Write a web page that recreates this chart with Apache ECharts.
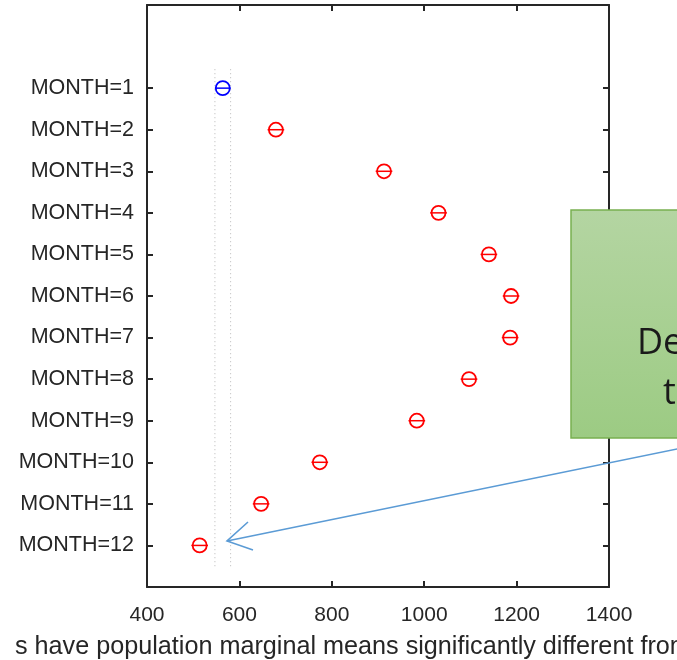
<!DOCTYPE html>
<html>
<head>
<meta charset="utf-8">
<script src="https://cdn.jsdelivr.net/npm/echarts@6/dist/echarts.min.js"></script>
<style>
html,body{margin:0;padding:0;background:#fff;}
#chart{width:677px;height:660px;}
</style>
</head>
<body>
<div id="chart"></div>
<script>
var months = ['MONTH=1','MONTH=2','MONTH=3','MONTH=4','MONTH=5','MONTH=6','MONTH=7','MONTH=8','MONTH=9','MONTH=10','MONTH=11','MONTH=12'];
var means = [564, 679, 913, 1031, 1140, 1188, 1186, 1097, 984, 774, 647, 514];
var ciHalf = [17, 18, 18, 18, 18, 18, 18, 18, 18, 18, 18, 18];
var groupColors = ['#0000ff','#ff0000','#ff0000','#ff0000','#ff0000','#ff0000','#ff0000','#ff0000','#ff0000','#ff0000','#ff0000','#ff0000'];
var footText = 's have population marginal means significantly different from MONTH=1';
var noteLines = ['Determine', 'the'];

var n = months.length;
var yPos = months.map(function(m, i){ return n - i; });
var pts = months.map(function(m, i){ return [means[i], yPos[i], means[i]-ciHalf[i], means[i]+ciHalf[i], i]; });
var refLo = means[0]-ciHalf[0], refHi = means[0]+ciHalf[0];
var labelMap = {};
yPos.forEach(function(p, i){ labelMap[p] = months[i]; });

var axisCol = '#262626';
var lblFont = '"Liberation Sans", Arial, sans-serif';
var chart = echarts.init(document.getElementById('chart'));

var option = {
  animation: false,
  backgroundColor: '#fff',
  grid: {left:147, right:68, top:5, bottom:73, containLabel:false},
  xAxis: [{
    type:'value', min:400, max:1400, interval:200, position:'bottom',
    axisLine:{show:true, onZero:false, lineStyle:{color:axisCol, width:2}},
    axisTick:{show:true, inside:true, length:6, lineStyle:{color:axisCol, width:2}},
    axisLabel:{color:axisCol, fontSize:21, fontFamily:lblFont, margin:18, formatter:function(v){ return String(v); }},
    splitLine:{show:false}
  },{
    type:'value', min:400, max:1400, interval:200, position:'top',
    axisLine:{show:true, onZero:false, lineStyle:{color:axisCol, width:2}},
    axisTick:{show:true, inside:true, length:6, lineStyle:{color:axisCol, width:2}},
    axisLabel:{show:false}, splitLine:{show:false}
  }],
  yAxis: [{
    type:'value', min:0, max:n+2, position:'left',
    axisLine:{show:true, onZero:false, lineStyle:{color:axisCol, width:2}},
    axisTick:{show:true, inside:true, length:6, customValues:yPos, lineStyle:{color:axisCol, width:2}},
    axisLabel:{color:axisCol, fontSize:21.5, fontFamily:lblFont, margin:13, customValues:yPos,
      formatter:function(v){ return labelMap[v] || ''; }},
    splitLine:{show:false}
  },{
    type:'value', min:0, max:n+2, position:'right',
    axisLine:{show:true, onZero:false, lineStyle:{color:axisCol, width:2}},
    axisTick:{show:true, inside:true, length:6, customValues:yPos, lineStyle:{color:axisCol, width:2}},
    axisLabel:{show:false, customValues:yPos}, splitLine:{show:false}
  }],
  series: [{
    type:'line', xAxisIndex:0, yAxisIndex:0, symbol:'none', silent:true,
    data:[[refLo, 0.5],[refLo, n+0.5]],
    lineStyle:{color:'#b8b8b8', width:1, type:[1,3]}
  },{
    type:'line', xAxisIndex:0, yAxisIndex:0, symbol:'none', silent:true,
    data:[[refHi, 0.5],[refHi, n+0.5]],
    lineStyle:{color:'#b8b8b8', width:1, type:[1,3]}
  },{
    type:'custom', xAxisIndex:0, yAxisIndex:0,
    data: pts,
    encode:{x:[0,2,3], y:1},
    renderItem:function(params, api){
      var m = api.value(0), y = api.value(1), lo = api.value(2), hi = api.value(3), idx = api.value(4);
      var c = api.coord([m, y]);
      var a = api.coord([lo, y]);
      var b = api.coord([hi, y]);
      var col = groupColors[idx];
      return {type:'group', children:[
        {type:'line', shape:{x1:a[0], y1:a[1], x2:b[0], y2:b[1]}, style:{stroke:col, lineWidth:1.5}},
        {type:'circle', shape:{cx:c[0], cy:c[1], r:7}, style:{stroke:col, fill:null, lineWidth:1.8}}
      ]};
    },
    z:5
  }],
  graphic: [
    {type:'rect', z:100, shape:{x:571, y:210, width:140, height:228},
     style:{fill:new echarts.graphic.LinearGradient(0,0,0,1,[{offset:0,color:'#b4d5a2'},{offset:1,color:'#9ccb83'}]),
            stroke:'#78b050', lineWidth:1.5}},
    {type:'text', z:101, x:637, y:362, style:{text:noteLines[0], font:'36px "Open Sans", sans-serif', fill:'#1a1a1a', textAlign:'left', textVerticalAlign:'bottom'}},
    {type:'text', z:101, x:663, y:412, style:{text:noteLines[1], font:'36px "Open Sans", sans-serif', fill:'#1a1a1a', textAlign:'left', textVerticalAlign:'bottom'}},
    {type:'polyline', z:102, shape:{points:[[700,444.3],[227,541]]}, style:{stroke:'#5b9bd5', lineWidth:1.6, fill:null}},
    {type:'polyline', z:102, shape:{points:[[248,522],[227,541],[253,550]]}, style:{stroke:'#5b9bd5', lineWidth:1.6, fill:null}},
    {type:'text', z:50, x:15, y:660, style:{text:footText, font:'25.2px ' + lblFont, fill:'#262626', textAlign:'left', textVerticalAlign:'bottom'}}
  ]
};
chart.setOption(option);
</script>
</body>
</html>
